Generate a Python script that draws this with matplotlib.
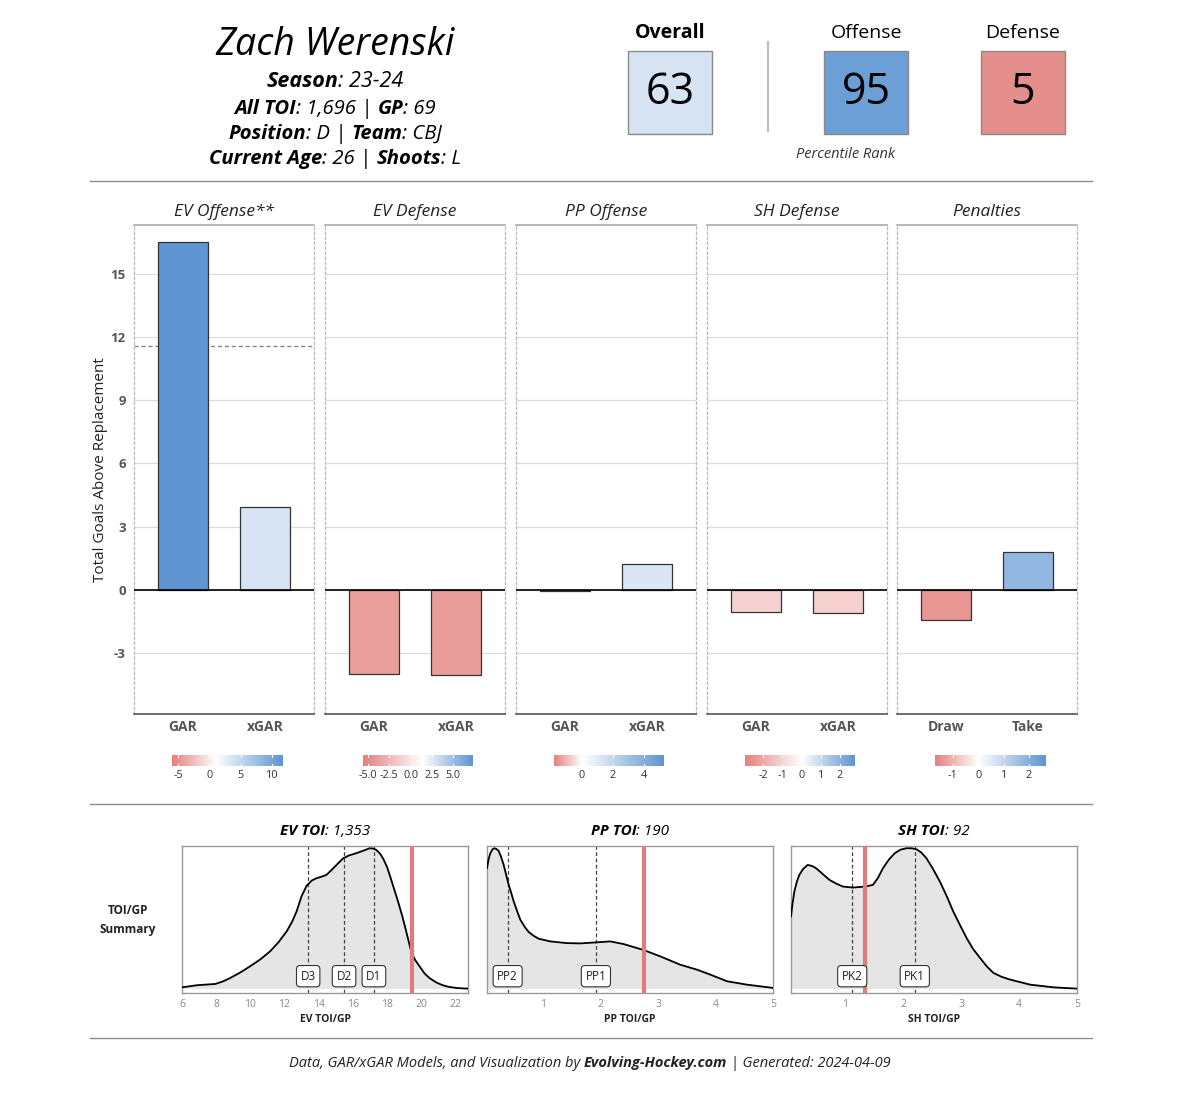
import numpy as np
import matplotlib
matplotlib.use('Agg')
import matplotlib.pyplot as plt
from matplotlib.colors import LinearSegmentedColormap, TwoSlopeNorm
from matplotlib.patches import Rectangle

plt.rcParams['font.family'] = ['Open Sans', 'DejaVu Sans']

# ---- data ----
player = 'Zach Werenski'
season = '23-24'
all_toi = '1,696'
gp = '69'
position = 'D'
team = 'CBJ'
age = '26'
shoots = 'L'

rank_names = ['Overall', 'Offense', 'Defense']
rank_values = [63, 95, 5]

bar_groups = ['EV Offense**', 'EV Defense', 'PP Offense', 'SH Defense', 'Penalties']
bar_labels = [['GAR', 'xGAR'], ['GAR', 'xGAR'], ['GAR', 'xGAR'], ['GAR', 'xGAR'], ['Draw', 'Take']]
bar_values = [[16.5, 3.93], [-3.98, -4.03], [-0.05, 1.23], [-1.04, -1.09], [-1.42, 1.8]]
ev_off_ref = 11.56

# colour scale per panel: min, white point, max, ticks
cb_min = [-5.96, -5.6, -1.8, -2.94, -1.71]
cb_mid = [1.1, 1.4, 0.0, 0.0, 0.0]
cb_max = [11.76, 7.35, 5.3, 2.78, 2.67]
cb_ticks = [[-5, 0, 5, 10], [-5.0, -2.5, 0.0, 2.5, 5.0], [0, 2, 4], [-2, -1, 0, 1, 2], [-1, 0, 1, 2]]
cb_ticklabels = [['-5', '0', '5', '10'], ['-5.0', '-2.5', '0.0', '2.5', '5.0'],
                 ['0', '2', '4'], ['-2', '-1', '0', '1', '2'], ['-1', '0', '1', '2']]

# TOI/GP density curves (relative height)
ev_x = [6.0, 6.88, 7.95, 8.4, 8.82, 9.4, 9.99, 10.6, 11.16, 11.65, 12.13, 12.45, 12.71, 13.0, 13.30, 13.6,
        13.88, 14.2, 14.46, 14.75, 15.05, 15.44, 15.8, 16.21, 16.6, 16.99, 17.2, 17.38, 17.6, 17.77, 18.0,
        18.16, 18.4, 18.65, 18.9, 19.13, 19.42, 19.65, 19.91, 20.2, 20.49, 20.9, 21.27, 21.6, 22.05, 22.4, 22.75]
ev_y = [0.016, 0.031, 0.040, 0.058, 0.082, 0.12, 0.165, 0.215, 0.271, 0.335, 0.412, 0.48, 0.553, 0.66, 0.735,
        0.772, 0.788, 0.80, 0.812, 0.845, 0.882, 0.929, 0.950, 0.965, 0.982, 1.0, 0.998, 0.988, 0.962, 0.929,
        0.87, 0.812, 0.72, 0.624, 0.52, 0.412, 0.271, 0.21, 0.165, 0.115, 0.082, 0.05, 0.031, 0.02, 0.012,
        0.009, 0.007]
pp_x = [0.026, 0.055, 0.084, 0.12, 0.154, 0.19, 0.229, 0.27, 0.316, 0.36, 0.403, 0.45, 0.49, 0.55, 0.606,
        0.68, 0.751, 0.84, 0.925, 1.128, 1.417, 1.649, 1.922, 2.171, 2.403, 2.75, 3.04, 3.388, 3.678, 3.91,
        4.2, 4.548, 5.0]
pp_y = [0.859, 0.925, 0.965, 0.992, 1.0, 0.995, 0.981, 0.94, 0.882, 0.81, 0.741, 0.68, 0.624, 0.555, 0.494,
        0.445, 0.407, 0.38, 0.36, 0.341, 0.329, 0.327, 0.334, 0.341, 0.322, 0.28, 0.235, 0.176, 0.141, 0.106,
        0.059, 0.035, 0.012]
sh_x = [0.058, 0.085, 0.116, 0.16, 0.202, 0.27, 0.347, 0.42, 0.491, 0.6, 0.723, 0.84, 0.954, 1.127, 1.341,
        1.474, 1.56, 1.647, 1.75, 1.85, 1.95, 2.052, 2.14, 2.225, 2.31, 2.399, 2.51, 2.63, 2.75, 2.861, 2.98,
        3.092, 3.2, 3.324, 3.44, 3.555, 3.7, 3.844, 4.191, 4.595, 5.0]
sh_y = [0.518, 0.61, 0.694, 0.765, 0.812, 0.855, 0.882, 0.875, 0.859, 0.82, 0.776, 0.75, 0.729, 0.722, 0.729,
        0.741, 0.79, 0.859, 0.92, 0.965, 0.99, 1.0, 1.0, 0.993, 0.97, 0.929, 0.855, 0.765, 0.66, 0.553, 0.455,
        0.365, 0.29, 0.224, 0.165, 0.118, 0.09, 0.071, 0.035, 0.016, 0.007]

toi_titles = [('EV TOI', ': 1,353'), ('PP TOI', ': 190'), ('SH TOI', ': 92')]
toi_xlabels = ['EV TOI/GP', 'PP TOI/GP', 'SH TOI/GP']
toi_xlims = [(6.0, 22.75), (0.026, 5.0), (0.058, 5.0)]
toi_ticks = [[6, 8, 10, 12, 14, 16, 18, 20, 22], [1, 2, 3, 4, 5], [1, 2, 3, 4, 5]]
toi_lines = [[13.39, 15.49, 17.24], [0.385, 1.92], [1.116, 2.197]]
toi_line_labels = [['D3', 'D2', 'D1'], ['PP2', 'PP1'], ['PK2', 'PK1']]
toi_player = [19.47, 2.75, 1.34]

W, H = 1200, 1116
fig = plt.figure(figsize=(W / 100, H / 100), dpi=100)
renderer = fig.canvas.get_renderer()

RED = '#E3817F'
BLUE = '#5F95D2'
cmap = LinearSegmentedColormap.from_list('rwb', [RED, '#FFFFFF', BLUE])


def fx(x):
    return x / W


def fy(y):
    return 1 - y / H


def rich(x, y, parts, size, color='black'):
    # parts: (text, weight, style); centred horizontally at pixel x, baseline at pixel y
    ts = []
    for s, w, st in parts:
        t = fig.text(0, 0, s, fontsize=size, fontweight=w, fontstyle=st, color=color, va='baseline', ha='left')
        ts.append(t)
    widths = [t.get_window_extent(renderer).width for t in ts]
    cur = x - sum(widths) / 2
    for t, wd in zip(ts, widths):
        t.set_position((fx(cur), fy(y)))
        cur += wd


def hline(y, x0=90, x1=1092, color='#8c8c8c', lw=1.0):
    fig.add_artist(plt.Line2D([fx(x0), fx(x1)], [fy(y), fy(y)], color=color, lw=lw))


# ---- header ----
fig.text(fx(335), fy(55), player, fontsize=27, fontstyle='italic', ha='center', va='baseline')
BI = ('bold', 'italic')
I = ('normal', 'italic')
rich(335, 87, [('Season', *BI), (': ' + season, *I)], 15.5)
rich(335, 114, [('All TOI', *BI), (': ' + all_toi + ' | ', *I), ('GP', *BI), (': ' + gp, *I)], 14.6)
rich(335, 139, [('Position', *BI), (': ' + position + ' | ', *I), ('Team', *BI), (': ' + team, *I)], 14.6)
rich(335, 164, [('Current Age', *BI), (': ' + age + ' | ', *I), ('Shoots', *BI), (': ' + shoots, *I)], 14.6)

box_x = [628, 824, 981]
box_colors = ['#D5E3F2', '#6C9FD6', '#E58F8C']
for i in range(3):
    fig.add_artist(Rectangle((fx(box_x[i]), fy(134)), 84 / W, 83 / H, transform=fig.transFigure,
                             facecolor=box_colors[i], edgecolor='#8a8a8a', lw=1))
    fig.text(fx(box_x[i] + 42), fy(93), str(rank_values[i]), fontsize=31, ha='center', va='center')
    fig.text(fx(box_x[i] + 42), fy(38), rank_names[i], fontsize=14,
             fontweight='bold' if i == 0 else 'normal', ha='center', va='baseline')
fig.text(fx(845), fy(154), 'Percentile Rank', fontsize=10.5, fontstyle='italic', ha='center', va='center',
         color='#333333')
fig.add_artist(plt.Line2D([fx(768), fx(768)], [fy(42), fy(131)], color='#bbbbbb', lw=1.5))

hline(181)
hline(804)
hline(1038)

# ---- bar panels ----
panel_left = [134, 325, 516, 707, 897]
cb_left = [172, 363, 554, 745, 935]
cb_right = [283, 473, 664, 855, 1046]
for i in range(5):
    ax = fig.add_axes([fx(panel_left[i]), fy(714), 180 / W, 489 / H])
    ax.set_xlim(-0.6, 1.6)
    ax.set_ylim(-5.88, 17.3)
    for v in [-3, 0, 3, 6, 9, 12, 15]:
        ax.axhline(v, color='#dddddd', lw=0.9, zorder=0)
    norm = TwoSlopeNorm(vcenter=cb_mid[i], vmin=cb_min[i], vmax=cb_max[i])
    vals = bar_values[i]
    cols = [cmap(norm(np.clip(v, cb_min[i], cb_max[i]))) for v in vals]
    ax.bar([0, 1], vals, width=0.61, color=cols, edgecolor='#333333', lw=0.9, zorder=2)
    ax.axhline(0, color='black', lw=1.2, zorder=3)
    if i == 0:
        ax.axhline(ev_off_ref, color='#888888', lw=1, ls=(0, (3, 2)), zorder=1)
    for s in ['left', 'right']:
        ax.spines[s].set_linestyle((0, (2, 2)))
        ax.spines[s].set_color('#bbbbbb')
        ax.spines[s].set_linewidth(0.9)
    ax.spines['top'].set_color('#aaaaaa')
    ax.spines['top'].set_linewidth(1.2)
    ax.spines['bottom'].set_color('#555555')
    ax.spines['bottom'].set_linewidth(1.2)
    ax.set_xticks([0, 1])
    ax.set_xticklabels(bar_labels[i], fontsize=10, fontweight='bold', color='#555555')
    ax.tick_params(axis='x', length=0, pad=4)
    if i == 0:
        ax.set_yticks([-3, 0, 3, 6, 9, 12, 15])
        ax.set_yticklabels(['-3', '0', '3', '6', '9', '12', '15'], fontsize=9.5, fontweight='bold',
                           color='#555555')
        ax.tick_params(axis='y', length=0, pad=6)
        ax.set_ylabel('Total Goals Above Replacement', fontsize=11, color='#222222', labelpad=2)
    else:
        ax.set_yticks([])
    fig.text(fx(panel_left[i] + 90), fy(216), bar_groups[i], fontsize=12.5, fontstyle='italic',
             ha='center', va='baseline', color='#222222')

    # colour bar
    cax = fig.add_axes([fx(cb_left[i]), fy(766), (cb_right[i] - cb_left[i]) / W, 11 / H])
    grad = np.linspace(cb_min[i], cb_max[i], 300)
    cax.imshow(norm(grad)[None, :], cmap=cmap, aspect='auto', extent=[cb_min[i], cb_max[i], 0, 1],
               vmin=0, vmax=1)
    for t in cb_ticks[i]:
        cax.plot([t, t], [0, 0.22], color='white', lw=0.8)
        cax.plot([t, t], [0.78, 1], color='white', lw=0.8)
    cax.set_xlim(cb_min[i], cb_max[i])
    cax.set_ylim(0, 1)
    cax.set_xticks(cb_ticks[i])
    cax.set_xticklabels(cb_ticklabels[i], fontsize=7.8, color='#333333')
    cax.tick_params(axis='x', length=0, pad=3)
    cax.set_yticks([])
    for s in cax.spines.values():
        s.set_visible(False)

# ---- TOI/GP density panels ----
dens_left = [182, 487, 791]
dens_x = [ev_x, pp_x, sh_x]
dens_y = [ev_y, pp_y, sh_y]
for i in range(3):
    ax = fig.add_axes([fx(dens_left[i]), fy(993), 286 / W, 147 / H])
    ax.fill_between(dens_x[i], 0, dens_y[i], color='#e5e5e5', zorder=1)
    ax.plot(dens_x[i], dens_y[i], color='black', lw=1.3, zorder=3)
    ax.axhline(0, color='white', lw=1.5, zorder=2)
    for xv, lab in zip(toi_lines[i], toi_line_labels[i]):
        ax.axvline(xv, color='#444444', lw=0.9, ls=(0, (3, 2)), zorder=2)
        ax.text(xv, 0.095, lab, fontsize=8.5, ha='center', va='center', color='#222222', zorder=5,
                bbox=dict(boxstyle='round,pad=0.35,rounding_size=0.3', fc='white', ec='#333333', lw=0.8))
    ax.axvline(toi_player[i], color='#E07B7B', lw=3, zorder=4)
    ax.set_xlim(*toi_xlims[i])
    ax.set_ylim(-0.024, 1.016)
    ax.set_xticks(toi_ticks[i])
    ax.set_xticklabels([str(t) for t in toi_ticks[i]], fontsize=7.5, color='#888888')
    ax.tick_params(axis='x', length=0, pad=4)
    ax.set_yticks([])
    for s in ax.spines.values():
        s.set_color('#999999')
        s.set_linewidth(1)
    ax.set_xlabel(toi_xlabels[i], fontsize=7.5, fontweight='bold', color='#222222', labelpad=3)
    rich(dens_left[i] + 143, 835, [(toi_titles[i][0], *BI), (toi_titles[i][1], *I)], 11)

fig.text(fx(128), fy(920), 'TOI/GP\nSummary', fontsize=8.5, fontweight='bold', ha='center', va='center',
         linespacing=1.6, color='#222222')

rich(590, 1067, [('Data, GAR/xGAR Models, and Visualization by ', *I), ('Evolving-Hockey.com', *BI),
                 (' | Generated: 2024-04-09', *I)], 10.5, color='#222222')

fig.savefig('out.png', dpi=100, facecolor='white')
